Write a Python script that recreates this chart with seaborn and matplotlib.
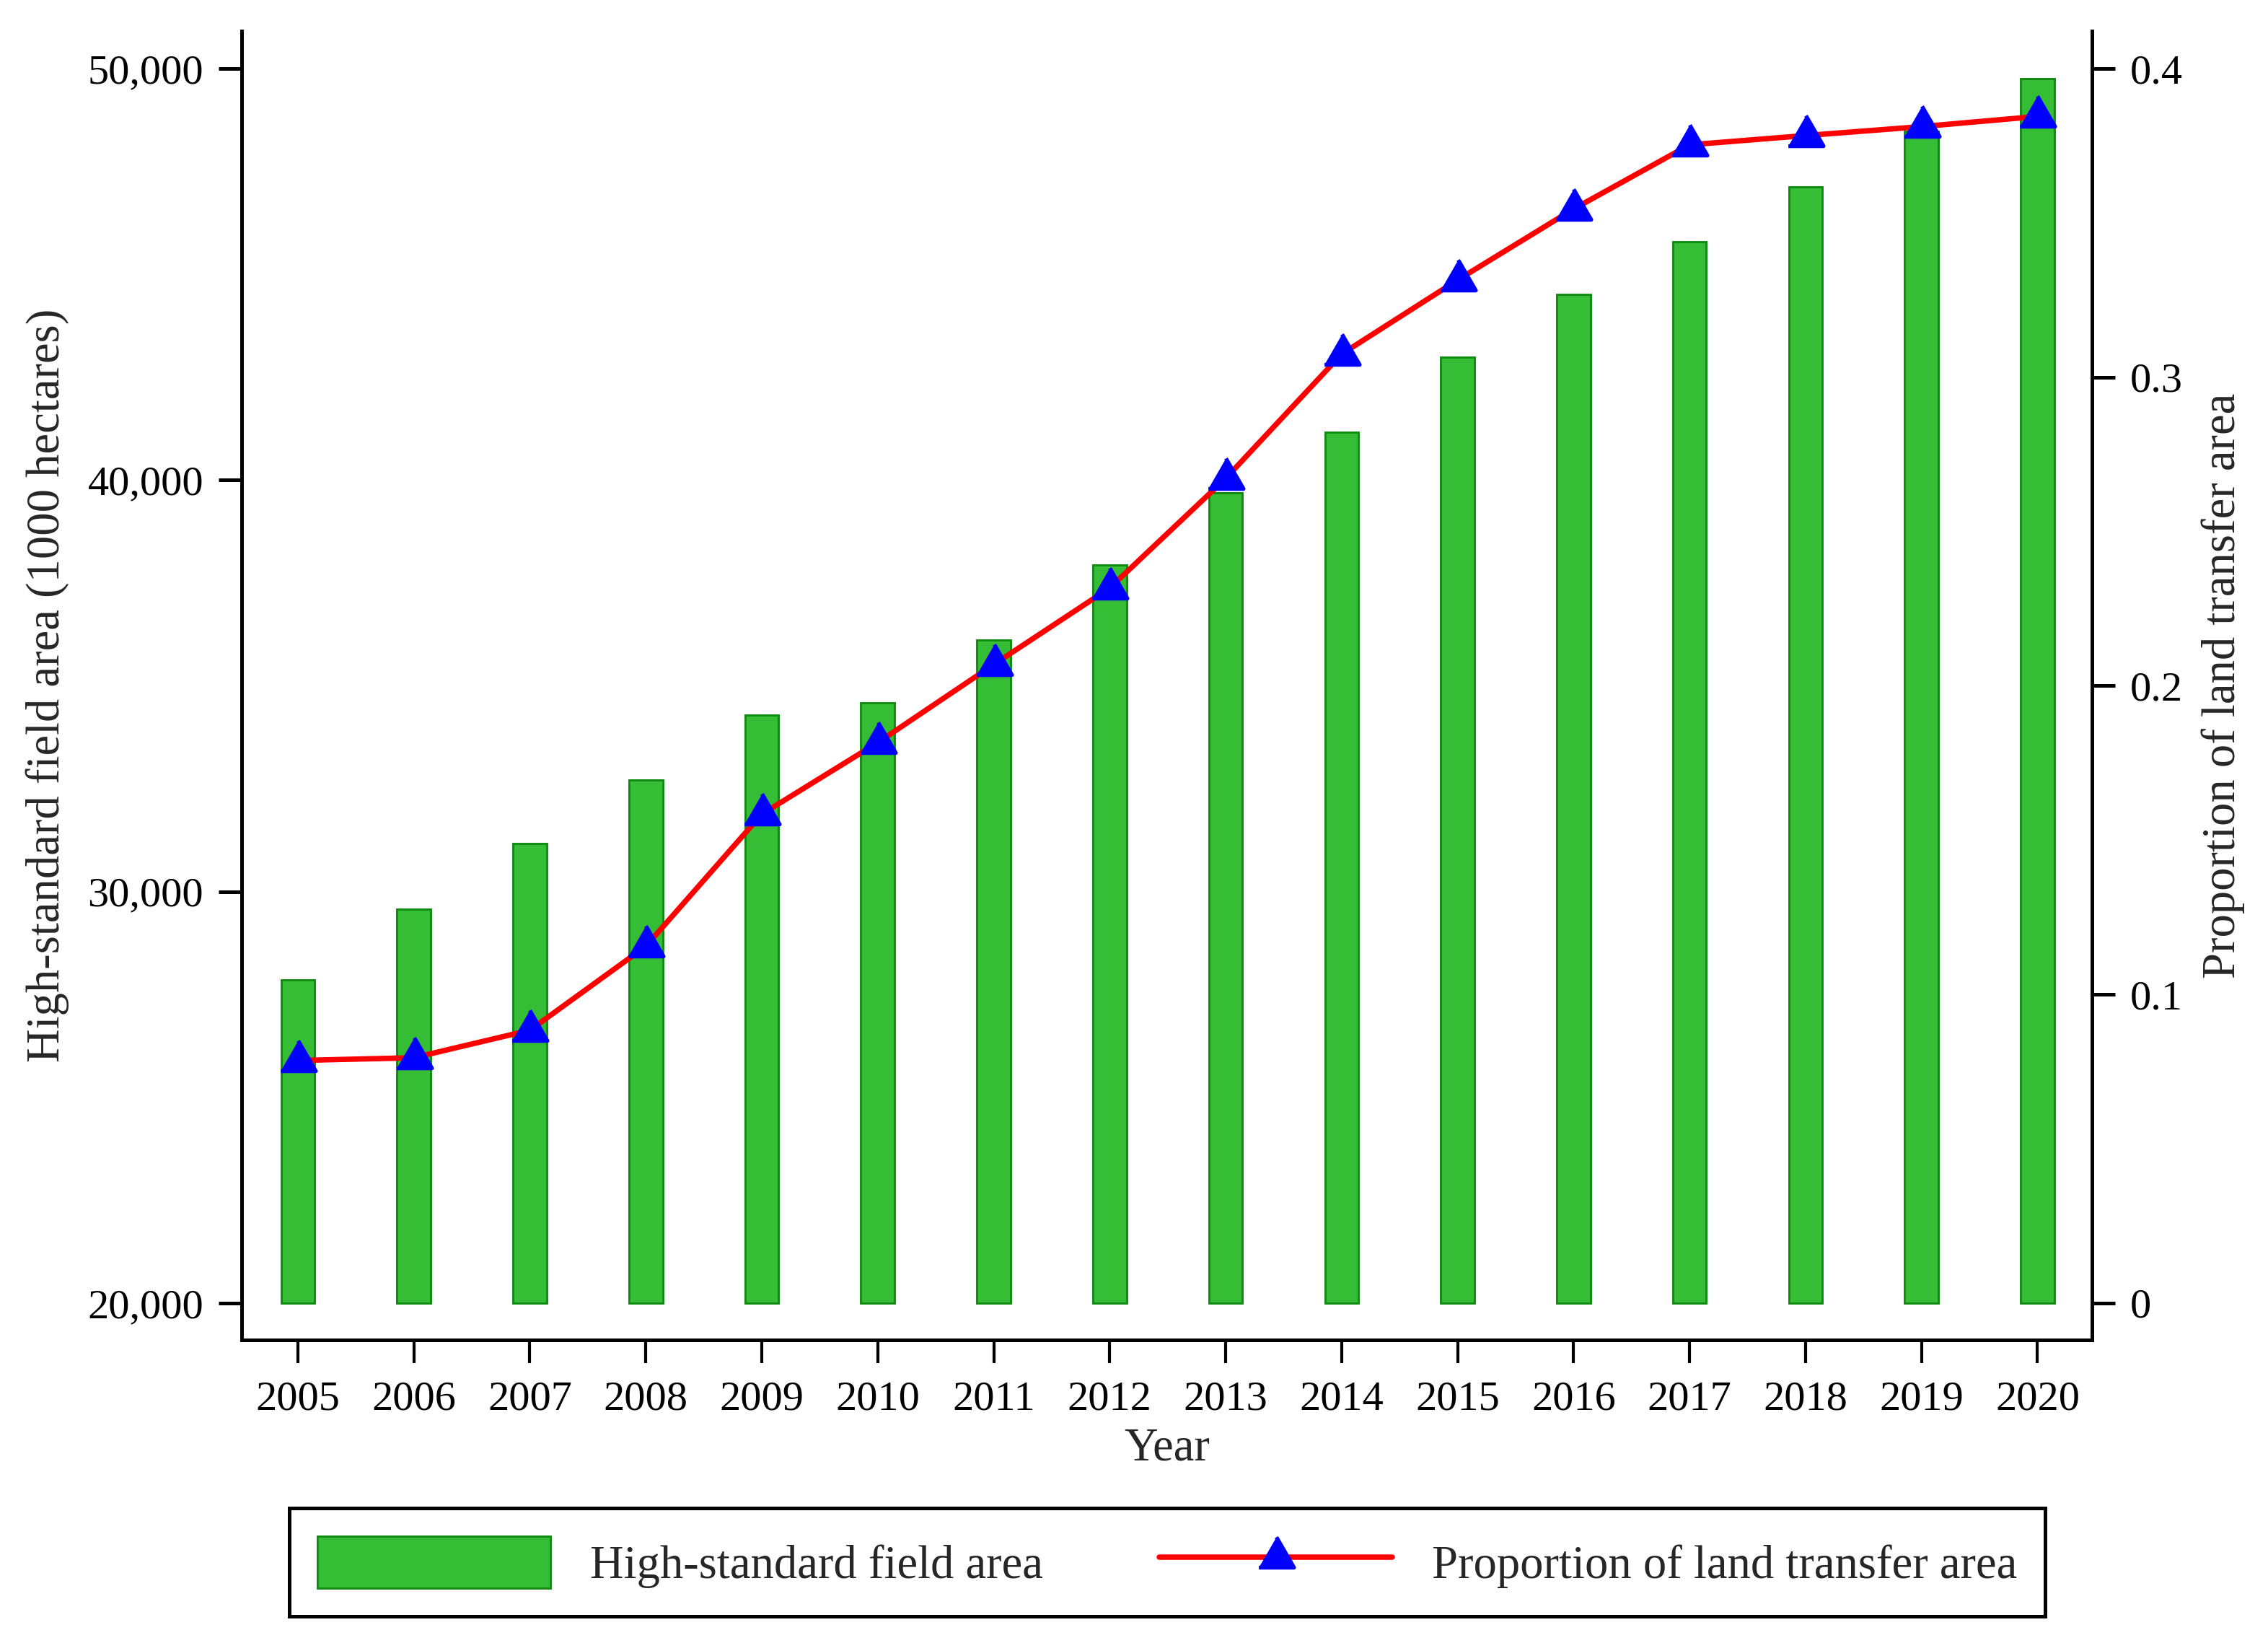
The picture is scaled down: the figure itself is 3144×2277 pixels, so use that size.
import numpy as np
import pandas as pd
import matplotlib
matplotlib.use("Agg")
import matplotlib.pyplot as plt
from matplotlib.markers import MarkerStyle
from matplotlib.ticker import FuncFormatter
import seaborn as sns

# values
years = list(range(2005, 2021))
field_area = [27860, 29570, 31160, 32720, 34290, 34580, 36120, 37940,
              39690, 41170, 42990, 44510, 45800, 47130, 48470, 49760]
transfer_share = [0.0786, 0.0795, 0.0884, 0.1156, 0.1584, 0.1816, 0.2069, 0.2317,
                  0.2672, 0.3075, 0.3315, 0.3545, 0.3753, 0.3783, 0.3812, 0.3845]
bar_base = 20000
left_ticks = [20000, 30000, 40000, 50000]
right_ticks = [0, 0.1, 0.2, 0.3, 0.4]

bar_label = "High-standard field area"
line_label = "Proportion of land transfer area"

sns.set_theme(style="white")
plt.rcParams["font.family"] = ["Liberation Serif", "DejaVu Serif"]

df = pd.DataFrame({"year": years, "area": field_area, "share": transfer_share})
df["bar_height"] = df["area"] - bar_base

fig = plt.figure(figsize=(3145 / 300, 2277 / 300), dpi=300)
ax = fig.add_axes([0.1065, 0.1845, 0.8156, 0.7966])

sns.barplot(
    data=df, x="year", y="bar_height",
    native_scale=True, width=0.29, bottom=bar_base,
    color="#35BE35", edgecolor="#118A11", linewidth=0.7,
    saturation=1, errorbar=None, ax=ax
)

ax2 = ax.twinx()
tri = MarkerStyle([(-1, -0.577), (1, -0.577), (0, 1.155)], joinstyle="round")
sns.lineplot(
    data=df, x="year", y="share",
    color="#FF0000", linewidth=1.8,
    marker=tri, markersize=13.5, markerfacecolor="#0000FF",
    markeredgecolor="#0000FF", markeredgewidth=1.3,
    legend=False, ax=ax2
)

# axes ranges
ax.set_xlim(2004.515, 2020.47)
ax.set_ylim(19106, 50912)
ax2.set_ylim((19106 - bar_base) / 75000, (50912 - bar_base) / 75000)

ax.set_xticks(years, [str(y) for y in years])
ax.set_yticks(left_ticks)
ax2.set_yticks(right_ticks)
ax.yaxis.set_major_formatter(FuncFormatter(lambda v, p: f"{v:,.0f}"))
ax2.yaxis.set_major_formatter(FuncFormatter(lambda v, p: f"{v:g}"))

for a in (ax, ax2):
    a.spines["top"].set_visible(False)
    for s in a.spines.values():
        s.set_color("black")
        s.set_linewidth(1.2)
    a.grid(False)
ax.spines["right"].set_visible(False)
ax2.spines["left"].set_visible(False)

ax.tick_params(axis="x", direction="out", length=7.7, width=1, pad=6,
               labelsize=14, colors="black", bottom=True)
ax.tick_params(axis="y", direction="out", length=7.7, width=1.2, pad=5,
               labelsize=14, colors="black", left=True)
ax2.tick_params(axis="y", direction="out", length=7.7, width=1.2, pad=5,
                labelsize=14, colors="black", right=True)

ax.set_xlabel("Year", fontsize=15.5, labelpad=3)
ax.set_ylabel("High-standard field area (1000 hectares)", fontsize=15.5, labelpad=6)
ax2.set_ylabel(line_label, fontsize=15.5, labelpad=6)

leg = fig.legend(
    [ax.containers[0], ax2.lines[0]], [bar_label, line_label],
    loc="center", bbox_to_anchor=(0.5145, 0.0492), ncol=2,
    fontsize=15.5, frameon=True, fancybox=False, framealpha=1,
    edgecolor="black", borderpad=0.6, handlelength=5, handleheight=1.33,
    handletextpad=0.85, columnspacing=2.5, numpoints=1
)
leg.get_frame().set_linewidth(1.2)

fig.savefig("out.png", dpi=300)
